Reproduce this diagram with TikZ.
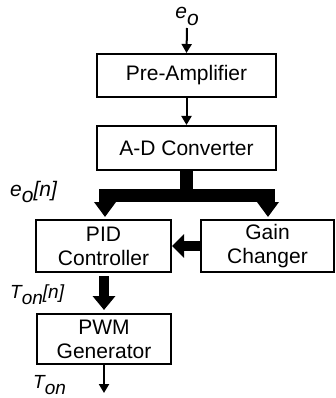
\documentclass[tikz,border=0pt]{standalone}
\usepackage{fontspec}
\setmainfont{Liberation Sans}
\usetikzlibrary{arrows.meta}
% lowered subscript at full size, as in the signal names
\newcommand\lsub[1]{\raisebox{-0.32em}{#1}}
\begin{document}
\begin{tikzpicture}[x=1pt,y=-1pt,
  block/.style={draw, line width=2pt, inner sep=0pt, align=center,
    font=\fontsize{21}{24}\selectfont},
  siglbl/.style={inner sep=0pt, font=\fontsize{21}{24}\selectfont\itshape},
  sigT/.style={inner sep=0pt, font=\fontsize{19}{22}\selectfont\itshape},
  wire/.style={line width=2pt, -{Triangle[width=10pt,length=9pt]}},
  bus/.style={line width=13pt, line join=miter},
  fat/.style={line width=10pt, -{Triangle[width=22pt,length=13pt]}},
]
\useasboundingbox[fill=white] (0,0) rectangle (335,398);

% blocks
\node[block, minimum width=179pt, minimum height=43pt] (pre) at (186.5,75.5) {Pre-Amplifier};
\node[block, minimum width=179pt, minimum height=44pt] (adc) at (186.5,148) {A-D Converter};
\node[block, minimum width=135pt, minimum height=52pt] (pid) at (103.5,246) {PID\\Controller};
\node[block, minimum width=133pt, minimum height=52pt] (gain) at (267.5,246) {Gain\\Changer};
\node[block, minimum width=134pt, minimum height=50pt] (pwm) at (104,339) {PWM\\Generator};

% signal names
\node[siglbl, anchor=base] (eo) at (187,19) {e\lsub{o}};
\node[siglbl, anchor=base west] (eon) at (10,196) {e\lsub{o}[n]};
\node[sigT, anchor=base west] (tonn) at (10,298) {T\lsub{on}[n]};
\node[sigT, anchor=base west] (ton) at (33,388) {T\lsub{on}};

% free ends and bus junctions
\coordinate (in) at (187,28);
\coordinate (out) at (104,393);
\coordinate (j) at (186.5,195.5);
\coordinate (jl) at (105,195.5);
\coordinate (jr) at (268,195.5);

% thin signal lines
\draw[wire] (in) -- (pre.north);
\draw[wire] (pre.south) -- (adc.north);
\draw[wire] (pwm.south) -- (out);

% digital bus from the converter, split to both blocks
\draw[bus] (adc.south) -- (j);
\draw[bus, {Triangle[width=21pt,length=15pt]}-{Triangle[width=21pt,length=15pt]},
  shorten <=2pt, shorten >=2pt]
  (jl |- pid.north) -- (jl) -- (jr) -- (jr |- gain.north);

% gain setting into the controller
\draw[fat, -{Triangle[width=23pt,length=12pt]}] (gain.west) -- (pid.east);

% on-time into the PWM generator
\draw[fat, -{Triangle[width=22pt,length=14pt]}, shorten <=3pt, shorten >=3pt]
  (pid.south -| pwm.north) -- (pwm.north);
\end{tikzpicture}
\end{document}
